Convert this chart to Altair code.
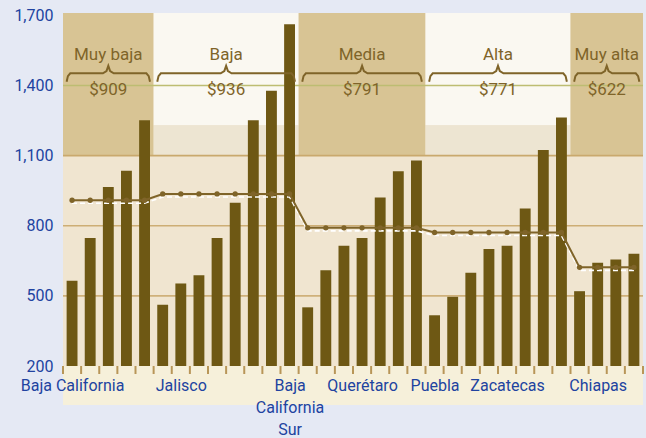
import json
import altair as alt
import pandas as pd

# ---------------- data ----------------
groups = ["Muy baja", "Baja", "Media", "Alta", "Muy alta"]
group_avg = [909, 936, 791, 771, 622]
group_sizes = [5, 8, 7, 8, 4]
values = [565, 748, 966, 1035, 1251,
          462, 553, 588, 748, 898, 1251, 1377, 1662,
          451, 610, 714, 748, 921, 1033, 1079,
          417, 496, 599, 701, 714, 874, 1124, 1263,
          520, 642, 656, 680]
label_positions = [0, 6, 12, 16, 20, 24, 29]
label_names = ["Baja California", "Jalisco", "Baja|California|Sur", "Querétaro",
               "Puebla", "Zacatecas", "Chiapas"]
y_ticks = [200, 500, 800, 1100, 1400, 1700]

# ---------------- styles ----------------
BG = "#E5E9F4"
CREAM = "#F0E5D0"
TAN = "#D8C494"
WHITE = "#FAF8F1"
FADE = "#EDE5D2"
BAR = "#6E5814"
BROWN = "#7F6429"
BLUE = "#2143A0"
FONT = "Roboto"
W, H = 580, 353
N = len(values)

# ---------------- tables ----------------
rows = []
grp_rows = []
start = 0
for g, (name, avg, n) in enumerate(zip(groups, group_avg, group_sizes)):
    for k in range(n):
        i = start + k
        rows.append({"i": i, "x0": i + 0.2, "x1": i + 0.8, "xs": i + 0.5,
                     "value": values[i], "avg": avg, "group": name})
    grp_rows.append({"group": name, "avg": avg, "start": start, "end": start + n,
                     "mid": start + n / 2, "light": g % 2 == 1,
                     "avg_label": f"${avg}"})
    start += n
bars_df = pd.DataFrame(rows)
grp_df = pd.DataFrame(grp_rows)

bg_rows = []
for r in grp_rows:
    if r["light"]:
        bg_rows.append({"x0": r["start"], "x1": r["end"], "y0": 1230, "y1": 1710, "c": WHITE})
        bg_rows.append({"x0": r["start"], "x1": r["end"], "y0": 1100, "y1": 1230, "c": FADE})
    else:
        bg_rows.append({"x0": r["start"], "x1": r["end"], "y0": 1100, "y1": 1710, "c": TAN})
bg_df = pd.DataFrame(bg_rows)

brace_rows = []
for r in grp_rows:
    s, e, m = r["start"] + 0.2, r["end"] - 0.2, r["mid"]
    pts = [(s, 1416), (s + 0.07, 1440), (s + 0.2, 1452), (m - 0.3, 1452), (m - 0.1, 1462),
           (m, 1484), (m + 0.1, 1462), (m + 0.3, 1452), (e - 0.2, 1452), (e - 0.07, 1440), (e, 1416)]
    for k, (x, y) in enumerate(pts):
        brace_rows.append({"group": r["group"], "seq": k, "x": x, "y": y})
brace_df = pd.DataFrame(brace_rows)

grid_df = pd.DataFrame({"y": y_ticks[1:-1],
                        "c": ["#CFB07A", "#CDAE75", "#C9A96D", "#BDBD72"]})
tick_df = pd.DataFrame({"x": list(range(N + 1))})

all_labels = [""] * N
for p, nm in zip(label_positions, label_names):
    all_labels[p] = nm
label_expr = ("split(" + json.dumps(all_labels, ensure_ascii=False)
              + "[floor(datum.value)], '|')")

xscale = alt.Scale(domain=[0, N], nice=False, zero=False)
yscale = alt.Scale(domain=[200, 1710], nice=False, zero=False)
xaxis = alt.Axis(title=None, values=[p + 0.5 for p in label_positions], labelExpr=label_expr,
                 ticks=False, domain=False, grid=False, labelAngle=0, labelColor=BLUE,
                 labelFont=FONT, labelFontSize=16, labelPadding=11, labelOverlap=False,
                 labelLineHeight=22, labelBaseline="top", labelAlign="center",
                 labelFlush=False, labelBound=False, zindex=2)
yaxis = alt.Axis(values=y_ticks, format=",d", title=None, labelColor=BLUE,
                 labelFont=FONT, labelFontSize=16, ticks=False, domain=False,
                 grid=False, labelPadding=10, zindex=2)


def X(f):
    return alt.X(f, scale=xscale, axis=xaxis)


def Y(f):
    return alt.Y(f, scale=yscale, axis=yaxis)


# ---------------- layers ----------------
bg = alt.Chart(bg_df).mark_rect().encode(
    x=X("x0:Q"), x2="x1:Q", y=Y("y0:Q"), y2="y1:Q",
    color=alt.Color("c:N", scale=None))

label_band = alt.Chart(pd.DataFrame({"a": [0]})).mark_rect(color="#F6F0DA").encode(
    x=alt.value(0), x2=alt.value(W), y=alt.value(H), y2=alt.value(H + 39))

grid = alt.Chart(grid_df).mark_rule(strokeWidth=1.6).encode(
    y=Y("y:Q"), color=alt.Color("c:N", scale=None))

ticks = alt.Chart(tick_df).mark_tick(color="#B89658", orient="vertical", size=8,
                                     thickness=2, opacity=1).encode(
    x=X("x:Q"), y=alt.value(H + 4))

bars = alt.Chart(bars_df).mark_rect(color=BAR).encode(
    x=X("x0:Q"), x2="x1:Q", y=Y("value:Q"), y2=alt.datum(200))

avg_line = alt.Chart(bars_df).mark_line(
    color=BROWN, strokeWidth=2,
    point=alt.OverlayMarkDef(filled=True, size=28, color=BROWN)).encode(
    x=X("xs:Q"), y=Y("avg:Q"))

avg_dash = alt.Chart(bars_df).mark_line(
    color="white", strokeWidth=1.6, strokeDash=[5, 3], yOffset=3).encode(
    x=X("xs:Q"), y=Y("avg:Q"))

braces = alt.Chart(brace_df).mark_line(color=BROWN, strokeWidth=2).encode(
    x=X("x:Q"), y=Y("y:Q"), detail="group:N", order="seq:Q")

names = alt.Chart(grp_df).mark_text(color=BROWN, font=FONT, fontSize=17, baseline="middle").encode(
    x=X("mid:Q"), y=alt.datum(1529), text="group:N")

avgs = alt.Chart(grp_df).mark_text(color=BROWN, font=FONT, fontSize=17, baseline="middle").encode(
    x=X("mid:Q"), y=alt.datum(1379), text="avg_label:N")

chart = alt.layer(bg, label_band, grid, bars, ticks, avg_dash, avg_line, braces, names, avgs).properties(
    width=W, height=H,
    autosize=alt.AutoSizeParams(type="none"),
    padding={"left": 63, "top": 13, "right": 3, "bottom": 72},
    background=BG,
).configure_view(stroke=None, fill=CREAM)

chart.save("out.html", embed_options={"renderer": "svg", "actions": False})
